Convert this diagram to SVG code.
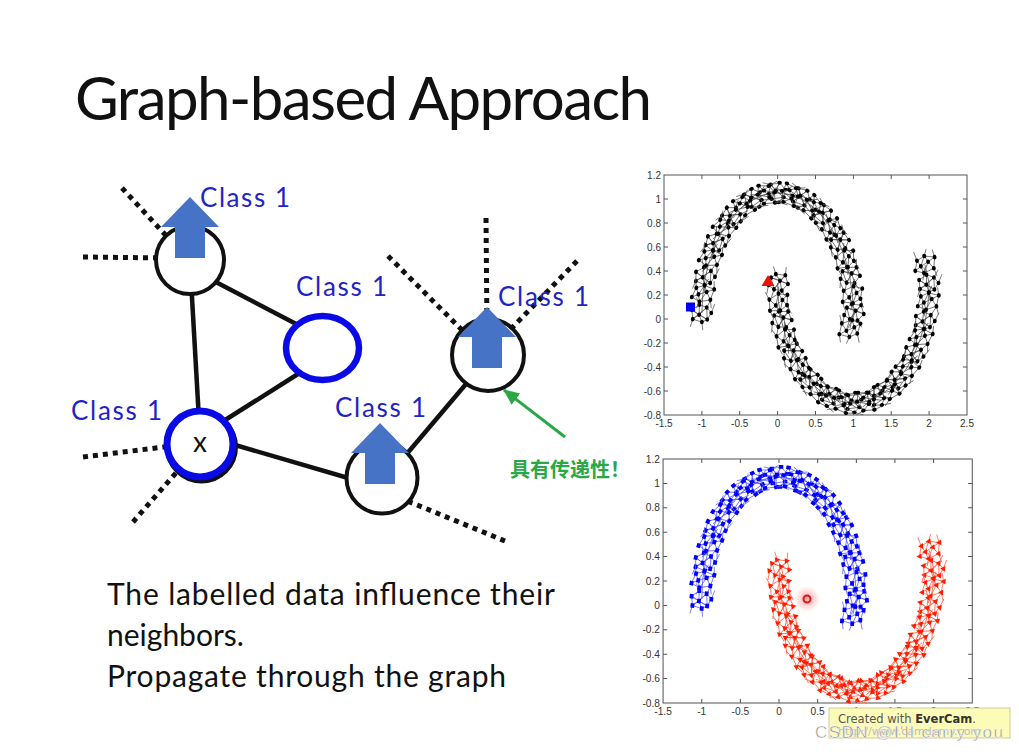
<svg xmlns="http://www.w3.org/2000/svg" xmlns:xlink="http://www.w3.org/1999/xlink" width="1019" height="752" viewBox="0 0 1019 752">
<style>
.title{font-family:Lato,"Liberation Sans",sans-serif;font-size:60px;font-weight:400;fill:#111}
.body{font-family:Lato,"Liberation Sans",sans-serif;font-size:30px;fill:#111}
.lbl{font-family:Lato,"Liberation Sans",sans-serif;font-size:26px;fill:#1f24c6}
.edge{stroke:#111;stroke-width:4.5;fill:none}
.dots{stroke:#111;stroke-width:5;stroke-dasharray:5 5;fill:none}
.node{fill:#fff;stroke:#111;stroke-width:4}
.blue{fill:#fff;stroke:#0a0ae6}
.arrow{fill:#4673c5}
.ax{font-family:"Liberation Sans",Arial,sans-serif;font-size:10px;fill:#333}
.lk{fill:none;stroke:#555;stroke-width:0.8}
.lb{fill:none;stroke:#5a5aff;stroke-width:0.8}
.lr{fill:none;stroke:#ff5a3a;stroke-width:0.8}
</style>
<defs>
<path id="arrowUp" d="M0 0L29 30L15 30L15 61L-15 61L-15 30L-29 30Z"/>
<path id="cAl" transform="scale(1 0.85)" d="M-7-10L2-12L8-4L-2-3L-7-10M2-12L-2-3L6 5L8-4M6 5L-6 7L-2-3M-6 7L1 11L6 5M-9 1L-7-10M-9 1L-2-3M-9 1L-6 7M-7-10L6 5M2-12L-6 7M8-4L15-8M6 5L14 9M1 11L10 14M-7-10L-15-12M-9 1L-17 3"/>
<path id="cAd" transform="scale(1 0.85)" d="M-7-10h0M2-12h0M8-4h0M-2-3h0M6 5h0M-6 7h0M1 11h0M-9 1h0"/>
<path id="cAt" d="M-7-11.5l2.8 5h-5.6zM2-13.2l2.8 5h-5.6zM8-6.4l2.8 5h-5.6zM-2-5.5l2.8 5h-5.6zM6 1.2l2.8 5h-5.6zM-6 3l2.8 5h-5.6zM1 6.3l2.8 5h-5.6zM-9-2.1l2.8 5h-5.6z"/>
<path id="cBl" transform="scale(1 0.85)" d="M-5-12L5-9L9 0L3 4L-1-5L-5-12M5-9L-1-5L-8-2L-5-12M-8-2L3 4L-4 10L-8-2M3 4L7 12L-4 10M9 0L7 12M-1-5L9 0M5-9L14-12M9 0L16 3M7 12L15 10M-4 10L-12 13M-8-2L-15-4"/>
<path id="cBd" transform="scale(1 0.85)" d="M-5-12h0M5-9h0M-1-5h0M9 0h0M-8-2h0M3 4h0M-4 10h0M7 12h0"/>
<path id="cBt" d="M-5-13.2l2.8 5h-5.6zM5-10.7l2.8 5h-5.6zM-1-7.3l2.8 5h-5.6zM9-3l2.8 5h-5.6zM-8-4.7l2.8 5h-5.6zM3 0.4l2.8 5h-5.6zM-4 5.5l2.8 5h-5.6zM7 7.2l2.8 5h-5.6z"/>
<marker id="mAk" markerUnits="userSpaceOnUse" viewBox="-20 -20 40 40" markerWidth="40" markerHeight="40" refX="0" refY="0" orient="auto"><use href="#cAl" class="lk"/><use href="#cAd" fill="none" stroke="#000" stroke-width="4.6" stroke-linecap="round"/></marker>
<marker id="mBk" markerUnits="userSpaceOnUse" viewBox="-20 -20 40 40" markerWidth="40" markerHeight="40" refX="0" refY="0" orient="auto"><use href="#cBl" class="lk"/><use href="#cBd" fill="none" stroke="#000" stroke-width="4.6" stroke-linecap="round"/></marker>
<marker id="mAb" markerUnits="userSpaceOnUse" viewBox="-20 -20 40 40" markerWidth="40" markerHeight="40" refX="0" refY="0" orient="auto"><use href="#cAl" class="lb"/><use href="#cAd" fill="none" stroke="#0000ff" stroke-width="4.4" stroke-linecap="square"/></marker>
<marker id="mBb" markerUnits="userSpaceOnUse" viewBox="-20 -20 40 40" markerWidth="40" markerHeight="40" refX="0" refY="0" orient="auto"><use href="#cBl" class="lb"/><use href="#cBd" fill="none" stroke="#0000ff" stroke-width="4.4" stroke-linecap="square"/></marker>
<marker id="mAr" markerUnits="userSpaceOnUse" viewBox="-20 -20 40 40" markerWidth="40" markerHeight="40" refX="0" refY="0" orient="auto"><use href="#cAl" class="lr"/><use href="#cAt" fill="#ff1a00"/></marker>
<marker id="mBr" markerUnits="userSpaceOnUse" viewBox="-20 -20 40 40" markerWidth="40" markerHeight="40" refX="0" refY="0" orient="auto"><use href="#cBl" class="lr"/><use href="#cBt" fill="#ff1a00"/></marker>
<marker id="ga" markerUnits="userSpaceOnUse" viewBox="0 0 16 14" refX="15" refY="7" markerWidth="16" markerHeight="14" orient="auto"><path d="M0 0L16 7L0 14Z" fill="#2aa845"/></marker>
<radialGradient id="glow"><stop offset="0" stop-color="#ff6060" stop-opacity="0.55"/><stop offset="1" stop-color="#ff6060" stop-opacity="0"/></radialGradient>
<path id="upAll" d="M701.9 313L702.8 294.2L705.6 275.9L710.1 258.5L716.3 242.5L724 228.1L733.1 215.9L743.2 206.1L754.2 198.9L765.8 194.5L777.6 193L789.4 194.5L801 198.9L812 206.1L822.1 215.9L831.2 228.1L838.9 242.5L845.1 258.5L849.6 275.9L852.4 294.2L853.4 313L850 328"/>
<path id="loAll" d="M777.6 283L778.5 301.8L781.3 320.1L785.9 337.5L792.1 353.5L799.8 367.9L808.8 380.1L818.9 389.9L830 397.1L841.5 401.5L853.4 403L865.2 401.5L876.8 397.1L887.7 389.9L897.9 380.1L906.9 367.9L914.6 353.5L920.8 337.5L925.4 320.1L928.2 301.8L929.1 283L925 265"/>
<g id="axes">
<rect x="664" y="175" width="303" height="240" fill="#fff" stroke="#555" stroke-width="1"/>
<path stroke="#555" stroke-width="1" fill="none" d="M701.9 415v-4M739.7 415v-4M777.6 415v-4M815.5 415v-4M853.4 415v-4M891.2 415v-4M929.1 415v-4M701.9 175v4M739.7 175v4M777.6 175v4M815.5 175v4M853.4 175v4M891.2 175v4M929.1 175v4M664 199h4M664 223h4M664 247h4M664 271h4M664 295h4M664 319h4M664 343h4M664 367h4M664 391h4M967 199h-4M967 223h-4M967 247h-4M967 271h-4M967 295h-4M967 319h-4M967 343h-4M967 367h-4M967 391h-4"/>
<g class="ax" text-anchor="end">
<text x="661" y="178.5">1.2</text><text x="661" y="202.5">1</text><text x="661" y="226.5">0.8</text><text x="661" y="250.5">0.6</text><text x="661" y="274.5">0.4</text><text x="661" y="298.5">0.2</text><text x="661" y="322.5">0</text><text x="661" y="346.5">-0.2</text><text x="661" y="370.5">-0.4</text><text x="661" y="394.5">-0.6</text><text x="661" y="418.5">-0.8</text>
</g>
<g class="ax" text-anchor="middle">
<text x="664" y="427">-1.5</text><text x="701.9" y="427">-1</text><text x="739.7" y="427">-0.5</text><text x="777.6" y="427">0</text><text x="815.5" y="427">0.5</text><text x="853.4" y="427">1</text><text x="891.2" y="427">1.5</text><text x="929.1" y="427">2</text><text x="967" y="427">2.5</text>
</g>
</g>
</defs>
<rect width="1019" height="752" fill="#fff"/>
<text class="title" x="75" y="120" textLength="577">Graph-based Approach</text>

<g id="connectors">
<line class="edge" x1="191" y1="280" x2="199" y2="420"/>
<line class="edge" x1="212" y1="280" x2="300" y2="326"/>
<line class="edge" x1="222" y1="422" x2="298" y2="374"/>
<line class="edge" x1="225" y1="442" x2="355" y2="480"/>
<line class="edge" x1="405" y1="456" x2="466" y2="384"/>
<line class="dots" x1="122" y1="188" x2="172" y2="242"/>
<line class="dots" x1="83" y1="257" x2="165" y2="258"/>
<line class="dots" x1="83" y1="457" x2="172" y2="446"/>
<line class="dots" x1="133" y1="522" x2="182" y2="466"/>
<line class="dots" x1="505" y1="541" x2="405" y2="500"/>
<line class="dots" x1="388" y1="256" x2="470" y2="338"/>
<line class="dots" x1="486" y1="218" x2="487" y2="330"/>
<line class="dots" x1="577" y1="261" x2="505" y2="335"/>
<line x1="565" y1="437" x2="504" y2="390" stroke="#2aa845" stroke-width="3" marker-end="url(#ga)"/>
</g>

<g id="node-A">
<circle class="node" cx="190" cy="260" r="34"/>
<use href="#arrowUp" class="arrow" x="190" y="197"/>
<text class="lbl" x="200" y="207" textLength="90">Class 1</text>
</g>
<g id="node-B">
<ellipse class="blue" cx="322.5" cy="348" rx="36.5" ry="32" stroke-width="6.5"/>
<text class="lbl" x="296" y="296" textLength="91">Class 1</text>
</g>
<g id="node-X">
<circle cx="201.5" cy="447" r="34" fill="#fff" stroke="#111" stroke-width="5"/>
<circle class="blue" cx="200" cy="444" r="33" stroke-width="7"/>
<text x="200" y="452" text-anchor="middle" font-family="Lato, 'Liberation Sans', sans-serif" font-size="28" fill="#111">x</text>
<text class="lbl" x="71" y="420" textLength="91">Class 1</text>
</g>
<g id="node-D">
<circle class="node" cx="382" cy="478" r="35.5"/>
<use href="#arrowUp" class="arrow" x="380" y="423"/>
<text class="lbl" x="335" y="417" textLength="91">Class 1</text>
</g>
<g id="node-E">
<circle class="node" cx="488" cy="355" r="36"/>
<use href="#arrowUp" class="arrow" x="487" y="307"/>
<text class="lbl" x="498" y="306" textLength="91">Class 1</text>
</g>

<text x="510" y="477" font-family="'Noto Sans CJK SC', sans-serif" font-size="20" font-weight="bold" fill="#2aa845" textLength="120">具有传递性！</text>

<g id="caption" class="body">
<text x="107" y="605" textLength="448">The labelled data influence their</text>
<text x="107" y="646">neighbors.</text>
<text x="107" y="687" textLength="399">Propagate through the graph</text>
</g>

<g id="plot-1">
<use href="#axes"/>
<use href="#upAll" class="lk"/>
<use href="#loAll" class="lk"/>
<path fill="none" stroke="none" marker-start="url(#mAk)" marker-mid="url(#mAk)" marker-end="url(#mAk)" d="M701.9 313L705.6 275.9L716.3 242.5L733.1 215.9L754.2 198.9L777.6 193L801 198.9L822.1 215.9L838.9 242.5L849.6 275.9L853.4 313"/>
<path fill="none" stroke="none" marker-start="url(#mBk)" marker-mid="url(#mBk)" marker-end="url(#mBk)" d="M702.8 294.2L710.1 258.5L724 228.1L743.2 206.1L765.8 194.5L789.4 194.5L812 206.1L831.2 228.1L845.1 258.5L852.4 294.2L850 328"/>
<path fill="none" stroke="none" marker-start="url(#mAk)" marker-mid="url(#mAk)" marker-end="url(#mAk)" d="M777.6 283L781.3 320.1L792.1 353.5L808.8 380.1L830 397.1L853.4 403L876.8 397.1L897.9 380.1L914.6 353.5L925.4 320.1L929.1 283"/>
<path fill="none" stroke="none" marker-start="url(#mBk)" marker-mid="url(#mBk)" marker-end="url(#mBk)" d="M778.5 301.8L785.9 337.5L799.8 367.9L818.9 389.9L841.5 401.5L865.2 401.5L887.7 389.9L906.9 367.9L920.8 337.5L928.2 301.8L925 265"/>
<rect x="686" y="302.5" width="9" height="9" fill="#0000ee"/>
<polygon points="768,275 774.5,286 761.5,286" fill="#ee1100"/>
</g>

<g id="plot-2">
<g transform="translate(779 605.4) scale(1.02046 1.01667) translate(-777.6 -319)">
<use href="#axes"/>
<use href="#upAll" class="lb"/>
<use href="#loAll" class="lr"/>
<path fill="none" stroke="none" marker-start="url(#mAb)" marker-mid="url(#mAb)" marker-end="url(#mAb)" d="M701.9 313L705.6 275.9L716.3 242.5L733.1 215.9L754.2 198.9L777.6 193L801 198.9L822.1 215.9L838.9 242.5L849.6 275.9L853.4 313"/>
<path fill="none" stroke="none" marker-start="url(#mBb)" marker-mid="url(#mBb)" marker-end="url(#mBb)" d="M702.8 294.2L710.1 258.5L724 228.1L743.2 206.1L765.8 194.5L789.4 194.5L812 206.1L831.2 228.1L845.1 258.5L852.4 294.2L850 328"/>
<path fill="none" stroke="none" marker-start="url(#mAr)" marker-mid="url(#mAr)" marker-end="url(#mAr)" d="M777.6 283L781.3 320.1L792.1 353.5L808.8 380.1L830 397.1L853.4 403L876.8 397.1L897.9 380.1L914.6 353.5L925.4 320.1L929.1 283"/>
<path fill="none" stroke="none" marker-start="url(#mBr)" marker-mid="url(#mBr)" marker-end="url(#mBr)" d="M778.5 301.8L785.9 337.5L799.8 367.9L818.9 389.9L841.5 401.5L865.2 401.5L887.7 389.9L906.9 367.9L920.8 337.5L928.2 301.8L925 265"/>
</g>
<circle cx="807" cy="599" r="13" fill="url(#glow)"/>
<circle cx="807" cy="599" r="3.5" fill="none" stroke="#d81818" stroke-width="2"/>
</g>

<g id="watermark">
<rect x="829" y="708" width="181" height="30" fill="#fdfbb8" stroke="#cfcc98" stroke-width="1"/>
<text x="838" y="723" font-family="'DejaVu Sans', sans-serif" font-size="11.5" fill="#555">Created with <tspan font-weight="bold" fill="#333">EverCam</tspan>.</text>
<text x="838" y="735" font-family="'DejaVu Sans', sans-serif" font-size="11" fill="#bbb">http://www.camdemy.com</text>
<text x="815" y="738" font-family="'Liberation Sans', sans-serif" font-size="17" fill="#8a8a8a" stroke="#fff" stroke-width="0.5" textLength="188">CSDN @I'll carry you</text>
</g>
</svg>
